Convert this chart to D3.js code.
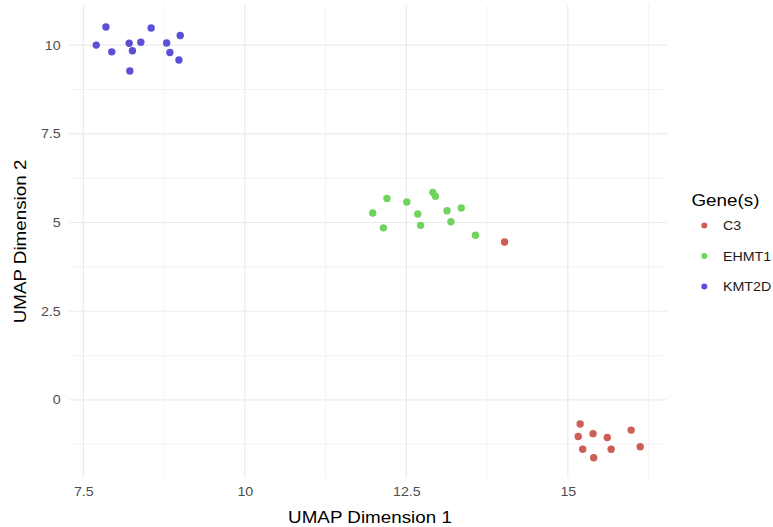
<!DOCTYPE html>
<html>
<head>
<meta charset="utf-8">
<script src="https://cdn.jsdelivr.net/npm/d3@7"></script>
<style>
  html, body { margin: 0; padding: 0; background: #ffffff; }
  svg { display: block; font-family: "Liberation Sans", Arial, Helvetica, sans-serif; }
</style>
</head>
<body>
<svg id="chart" width="773" height="527"></svg>
<script>
// UMAP embedding coordinates, one array per gene group
const genes = ["C3", "EHMT1", "KMT2D"];
const geneColors = ["#CC5E55", "#70D35E", "#5B4FD8"];

const c3X = [14.02, 15.19, 15.16, 15.39, 15.61, 15.23, 15.40, 15.67, 15.98, 16.12];
const c3Y = [4.45, -0.68, -1.03, -0.95, -1.06, -1.39, -1.63, -1.39, -0.85, -1.32];

const ehmt1X = [12.20, 11.98, 12.145, 12.507, 12.677, 12.72, 12.91, 12.95, 13.13, 13.19, 13.35, 13.57];
const ehmt1Y = [5.68, 5.27, 4.85, 5.58, 5.24, 4.92, 5.85, 5.74, 5.33, 5.02, 5.41, 4.64];

const kmt2dX = [7.85, 7.70, 7.94, 8.21, 8.26, 8.39, 8.55, 8.22, 8.79, 8.84, 8.98, 9.00];
const kmt2dY = [10.51, 10.00, 9.81, 10.05, 9.84, 10.08, 10.48, 9.27, 10.06, 9.79, 9.58, 10.27];

const xTicks = [7.5, 10, 12.5, 15];
const yTicks = [0, 2.5, 5, 7.5, 10];
const xMinor = [8.75, 11.25, 13.75, 16.25];
const yMinor = [-1.25, 1.25, 3.75, 6.25, 8.75];
const xTitle = "UMAP Dimension 1";
const yTitle = "UMAP Dimension 2";
const legendTitle = "Gene(s)";

const seriesX = [c3X, ehmt1X, kmt2dX];
const seriesY = [c3Y, ehmt1Y, kmt2dY];
const points = [];
genes.forEach((g, i) => {
  seriesX[i].forEach((x, j) => points.push({ gene: g, x: x, y: seriesY[i][j] }));
});

// Wider glyph rendering: stretch text along its own baseline around its anchor
const WIDEN = 1.14;
function widen(sel) {
  sel.each(function () {
    const t = d3.select(this);
    const ax = +(t.attr("x") || 0);
    const ay = +(t.attr("y") || 0);
    const prev = t.attr("transform") || "";
    t.attr("transform", `${prev} translate(${ax},${ay}) scale(${WIDEN},1) translate(${-ax},${-ay})`);
  });
}

const svg = d3.select("#chart");
const panel = { left: 69.3, right: 666.7, top: 5, bottom: 478 };

const x = d3.scaleLinear().domain([7.283, 16.53]).range([panel.left, panel.right]);
const y = d3.scaleLinear().domain([-2.2, 11.13]).range([panel.bottom, panel.top]);
const color = d3.scaleOrdinal().domain(genes).range(geneColors);

// Grid: minor lines first, then major
const grid = svg.append("g");
grid.selectAll(".xminor").data(xMinor).join("line")
  .attr("x1", d => x(d)).attr("x2", d => x(d))
  .attr("y1", panel.top).attr("y2", panel.bottom)
  .attr("stroke", "#EBEBEB").attr("stroke-width", 0.6);
grid.selectAll(".yminor").data(yMinor).join("line")
  .attr("x1", panel.left).attr("x2", panel.right)
  .attr("y1", d => y(d)).attr("y2", d => y(d))
  .attr("stroke", "#EBEBEB").attr("stroke-width", 0.6);
grid.selectAll(".xmajor").data(xTicks).join("line")
  .attr("x1", d => x(d)).attr("x2", d => x(d))
  .attr("y1", panel.top).attr("y2", panel.bottom)
  .attr("stroke", "#EBEBEB").attr("stroke-width", 1.2);
grid.selectAll(".ymajor").data(yTicks).join("line")
  .attr("x1", panel.left).attr("x2", panel.right)
  .attr("y1", d => y(d)).attr("y2", d => y(d))
  .attr("stroke", "#EBEBEB").attr("stroke-width", 1.2);

// Axes (labels only, no domain lines or ticks)
const fmt = d => String(d);
const xAxis = svg.append("g")
  .attr("transform", `translate(0,${panel.bottom})`)
  .call(d3.axisBottom(x).tickValues(xTicks).tickFormat(fmt).tickSize(0).tickPadding(9.6));
const yAxis = svg.append("g")
  .attr("transform", `translate(${panel.left},0)`)
  .call(d3.axisLeft(y).tickValues(yTicks).tickFormat(fmt).tickSize(0).tickPadding(8.6));
[xAxis, yAxis].forEach(a => {
  a.select(".domain").remove();
  a.selectAll("text")
    .attr("fill", "#4D4D4D")
    .style("font-size", "12.5px")
    .style("font-family", "'Liberation Sans', Arial, sans-serif")
    .call(widen);
});

// Points
svg.append("g").selectAll("circle").data(points).join("circle")
  .attr("cx", d => x(d.x))
  .attr("cy", d => y(d.y))
  .attr("r", 3.7)
  .attr("fill", d => color(d.gene));

// Axis titles
svg.append("text")
  .attr("x", 370)
  .attr("y", 523)
  .attr("text-anchor", "middle")
  .attr("fill", "#000")
  .style("font-size", "16.5px")
  .text(xTitle)
  .call(widen);
svg.append("text")
  .attr("transform", `translate(26,${(panel.top + panel.bottom) / 2}) rotate(-90)`)
  .attr("text-anchor", "middle")
  .attr("fill", "#000")
  .style("font-size", "16.5px")
  .text(yTitle)
  .call(widen);

// Legend
const legend = svg.append("g");
legend.append("text")
  .attr("x", 691.5)
  .attr("y", 206.5)
  .attr("fill", "#000")
  .style("font-size", "16.5px")
  .text(legendTitle)
  .call(widen);
const item = legend.selectAll(".item").data(genes).join("g")
  .attr("transform", (d, i) => `translate(0,${225.5 + i * 30.5})`);
item.append("circle")
  .attr("cx", 704.3).attr("cy", 0).attr("r", 3)
  .attr("fill", d => color(d));
item.append("text")
  .attr("x", 723)
  .attr("y", 4.8)
  .attr("fill", "#1A1A1A")
  .style("font-size", "12.5px")
  .text(d => d)
  .call(widen);
</script>
</body>
</html>
